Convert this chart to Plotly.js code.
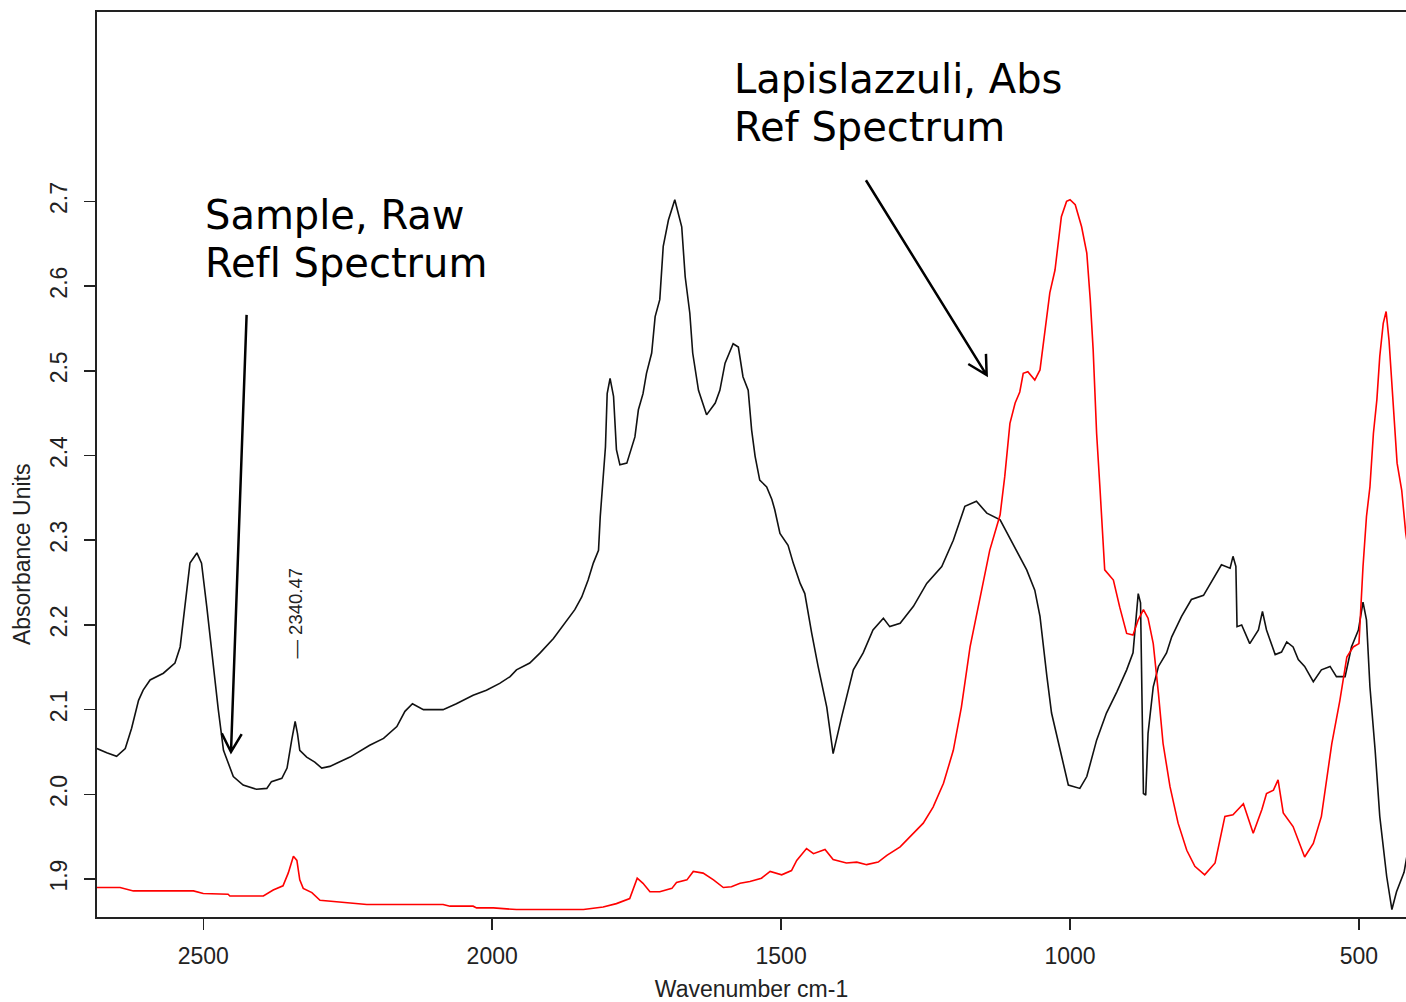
<!DOCTYPE html>
<html>
<head>
<meta charset="utf-8">
<script src="https://cdn.plot.ly/plotly-3.0.1.min.js"></script>
<style>
  html, body { margin:0; padding:0; background:#fff; overflow:hidden; }
  #chart { width:1406px; height:1002px; }
  #chart text { font-variant-ligatures: none; font-feature-settings: "liga" 0; }
</style>
</head>
<body>
<div id="chart"></div>
<script>
// Sample, raw reflectance spectrum (black)
const sampleWavenumber = [2684,2667,2650,2635,2624,2612,2604,2592,2569,2549,
  2540,2532,2523,2511,2503,2494,2483,2474,2465,2448,
  2431,2408,2390,2382,2364,2355,2347,2341,2337,2333,
  2321,2307,2295,2281,2246,2212,2188,2165,2151,2138,
  2119,2085,2062,2033,2010,1987,1969,1958,1935,1917,
  1894,1874,1857,1845,1834,1825,1816,1813,1808,1804,
  1801,1796,1790,1785,1779,1767,1753,1747,1739,1733,
  1724,1718,1710,1704,1695,1684,1672,1666,1658,1653,
  1643,1629,1614,1606,1597,1583,1574,1566,1557,1551,
  1545,1537,1525,1516,1511,1502,1488,1479,1467,1459,
  1447,1436,1421,1410,1395,1375,1358,1341,1323,1312,
  1294,1271,1248,1222,1202,1182,1162,1144,1121,1095,
  1075,1061,1052,1040,1032,1017,1003,983,971,954,
  937,919,902,891,885,882,878,873,869,865,
  856,847,833,824,807,790,769,755,738,723,
  718,713,711,703,689,674,667,660,645,634,
  625,614,605,594,579,565,550,539,524,513,
  501,493,487,481,472,464,452,443,435,422,
  412];
const sampleAbsorbance = [2.054,2.049,2.045,2.054,2.078,2.111,2.123,2.135,2.143,2.155,
  2.174,2.222,2.273,2.285,2.273,2.222,2.151,2.100,2.052,2.021,
  2.011,2.006,2.007,2.015,2.019,2.031,2.064,2.086,2.072,2.052,
  2.044,2.038,2.031,2.033,2.044,2.058,2.066,2.080,2.098,2.107,
  2.100,2.100,2.107,2.117,2.123,2.131,2.139,2.147,2.155,2.167,
  2.184,2.202,2.218,2.233,2.253,2.273,2.288,2.328,2.371,2.410,
  2.473,2.491,2.470,2.407,2.389,2.391,2.422,2.454,2.473,2.497,
  2.521,2.564,2.584,2.647,2.678,2.702,2.670,2.611,2.568,2.521,
  2.477,2.448,2.462,2.477,2.509,2.532,2.528,2.493,2.477,2.430,
  2.399,2.371,2.363,2.348,2.336,2.308,2.294,2.273,2.249,2.237,
  2.190,2.151,2.103,2.048,2.092,2.147,2.167,2.194,2.208,2.198,
  2.202,2.222,2.249,2.269,2.300,2.340,2.346,2.332,2.324,2.291,
  2.265,2.241,2.210,2.139,2.096,2.052,2.011,2.007,2.021,2.064,
  2.096,2.121,2.147,2.167,2.210,2.237,2.226,2.001,1.999,2.072,
  2.127,2.151,2.167,2.186,2.210,2.230,2.235,2.251,2.271,2.267,
  2.281,2.269,2.198,2.200,2.178,2.194,2.216,2.194,2.165,2.168,
  2.180,2.174,2.159,2.151,2.133,2.147,2.151,2.139,2.139,2.174,
  2.194,2.227,2.206,2.127,2.052,1.974,1.903,1.864,1.885,1.908,
  1.946];

// Lapislazzuli absorbance reference spectrum (red)
const refWavenumber = [2685,2644,2621,2517,2500,2457,2454,2396,2379,2362,
  2353,2344,2338,2333,2327,2312,2298,2269,2217,2085,
  2073,2033,2027,1998,1958,1842,1808,1785,1762,1749,
  1739,1727,1710,1689,1681,1663,1652,1635,1617,1600,
  1586,1571,1554,1534,1519,1499,1482,1473,1456,1444,
  1424,1410,1387,1369,1352,1332,1317,1294,1271,1254,
  1237,1219,1202,1188,1173,1156,1139,1121,1113,1104,
  1095,1087,1081,1073,1061,1052,1043,1035,1026,1020,
  1015,1006,1000,991,980,971,965,960,954,948,
  942,940,925,914,902,891,882,873,865,856,
  847,839,827,813,798,784,767,749,732,718,
  700,683,668,660,648,640,631,614,594,579,
  565,547,533,521,510,500,493,487,481,475,
  469,464,458,453,448,441,434,426,419,412];
const refAbsorbance = [1.890,1.890,1.886,1.886,1.883,1.882,1.880,1.880,1.887,1.892,
  1.907,1.927,1.922,1.899,1.889,1.884,1.875,1.873,1.870,1.870,
  1.868,1.868,1.866,1.866,1.864,1.864,1.867,1.871,1.877,1.901,
  1.895,1.885,1.885,1.889,1.896,1.899,1.909,1.907,1.899,1.890,
  1.891,1.895,1.897,1.901,1.909,1.905,1.910,1.922,1.936,1.930,
  1.935,1.923,1.919,1.920,1.917,1.920,1.928,1.938,1.954,1.966,
  1.985,2.013,2.052,2.103,2.174,2.233,2.288,2.330,2.375,2.438,
  2.462,2.475,2.497,2.499,2.489,2.501,2.548,2.592,2.619,2.651,
  2.682,2.700,2.702,2.696,2.670,2.639,2.584,2.525,2.426,2.359,
  2.288,2.265,2.253,2.221,2.190,2.188,2.206,2.218,2.208,2.178,
  2.119,2.060,2.009,1.966,1.934,1.915,1.905,1.919,1.974,1.976,
  1.989,1.954,1.982,2.001,2.005,2.017,1.978,1.962,1.926,1.942,
  1.974,2.060,2.111,2.162,2.174,2.178,2.269,2.328,2.363,2.426,
  2.466,2.517,2.556,2.570,2.536,2.462,2.391,2.359,2.308,2.277];

const xTickValues = [2500, 2000, 1500, 1000, 500];
const yTickValues = [1.9, 2.0, 2.1, 2.2, 2.3, 2.4, 2.5, 2.6, 2.7];
const peakLabel = 2340.47;

const axisFont = '"Liberation Sans", Arial, sans-serif';
const noteFont = '"DejaVu Sans", Verdana, sans-serif';

const traces = [
  { x: sampleWavenumber, y: sampleAbsorbance, type: 'scatter', mode: 'lines',
    name: 'Sample, Raw Refl Spectrum', line: { color: '#111111', width: 1.6 } },
  { x: refWavenumber, y: refAbsorbance, type: 'scatter', mode: 'lines',
    name: 'Lapislazzuli, Abs Ref Spectrum', line: { color: '#ff0000', width: 1.6 } }
];

const layout = {
  width: 1406, height: 1002,
  margin: { l: 97, r: 0, t: 12, b: 85 },
  paper_bgcolor: '#ffffff', plot_bgcolor: '#ffffff',
  showlegend: false,
  font: { family: axisFont, color: '#222222', size: 23 },
  xaxis: {
    range: [2683.9, 418.6],
    tickvals: xTickValues,
    ticks: 'outside', ticklen: 11, tickwidth: 1.5, tickcolor: '#222222',
    ticklabelstandoff: 6,
    showline: true, linecolor: '#222222', linewidth: 2, mirror: true,
    showgrid: false, zeroline: false,
    tickfont: { family: axisFont, size: 23, color: '#222222' },
    title: { text: 'Wavenumber cm-1', font: { family: axisFont, size: 23, color: '#222222' }, standoff: 18 }
  },
  yaxis: {
    range: [1.8552, 2.9236],
    tickvals: yTickValues, tickformat: '.1f', tickangle: -90,
    ticks: 'outside', ticklen: 11, tickwidth: 1.5, tickcolor: '#222222',
    ticklabelstandoff: 8,
    showline: true, linecolor: '#222222', linewidth: 2, mirror: false,
    showgrid: false, zeroline: false,
    tickfont: { family: axisFont, size: 23, color: '#222222' }
  },
  annotations: [
    { xref: 'paper', yref: 'paper', x: -0.0573, y: 0.401, text: 'Absorbance Units',
      textangle: -90, showarrow: false, xanchor: 'center', yanchor: 'middle',
      font: { family: axisFont, size: 23, color: '#222222' } },
    { xref: 'x', yref: 'y', x: peakLabel, y: 2.214, text: '\u2014 2340.47',
      textangle: -90, showarrow: false, xanchor: 'center', yanchor: 'middle',
      font: { family: axisFont, size: 18.5, color: '#222222' } },
    { xref: 'paper', yref: 'paper', x: 0.0807, y: 0.7757, text: 'Sample, Raw',
      showarrow: false, xanchor: 'left', yanchor: 'middle',
      font: { family: noteFont, size: 40, color: '#000000' } },
    { xref: 'paper', yref: 'paper', x: 0.0807, y: 0.7232, text: 'Refl Spectrum',
      showarrow: false, xanchor: 'left', yanchor: 'middle',
      font: { family: noteFont, size: 40, color: '#000000' } },
    { xref: 'paper', yref: 'paper', x: 0.4848, y: 0.926, text: 'Lapislazzuli, Abs',
      showarrow: false, xanchor: 'left', yanchor: 'middle',
      font: { family: noteFont, size: 40, color: '#000000' } },
    { xref: 'paper', yref: 'paper', x: 0.4848, y: 0.873, text: 'Ref Spectrum',
      showarrow: false, xanchor: 'left', yanchor: 'middle',
      font: { family: noteFont, size: 40, color: '#000000' } }
  ],
  shapes: [
    { type: 'path', xref: 'x', yref: 'y',
      path: 'M 2425,2.566 L 2452,2.050 M 2468,2.072 L 2452,2.050 L 2433.5,2.071',
      line: { color: '#000000', width: 2.5 } },
    { type: 'path', xref: 'x', yref: 'y',
      path: 'M 1353.2,2.725 L 1144.3,2.495 M 1176.1,2.508 L 1144.3,2.495 L 1145.5,2.520',
      line: { color: '#000000', width: 2.5 } }
  ]
};

Plotly.newPlot('chart', traces, layout, { staticPlot: true, displayModeBar: false });
</script>
</body>
</html>
